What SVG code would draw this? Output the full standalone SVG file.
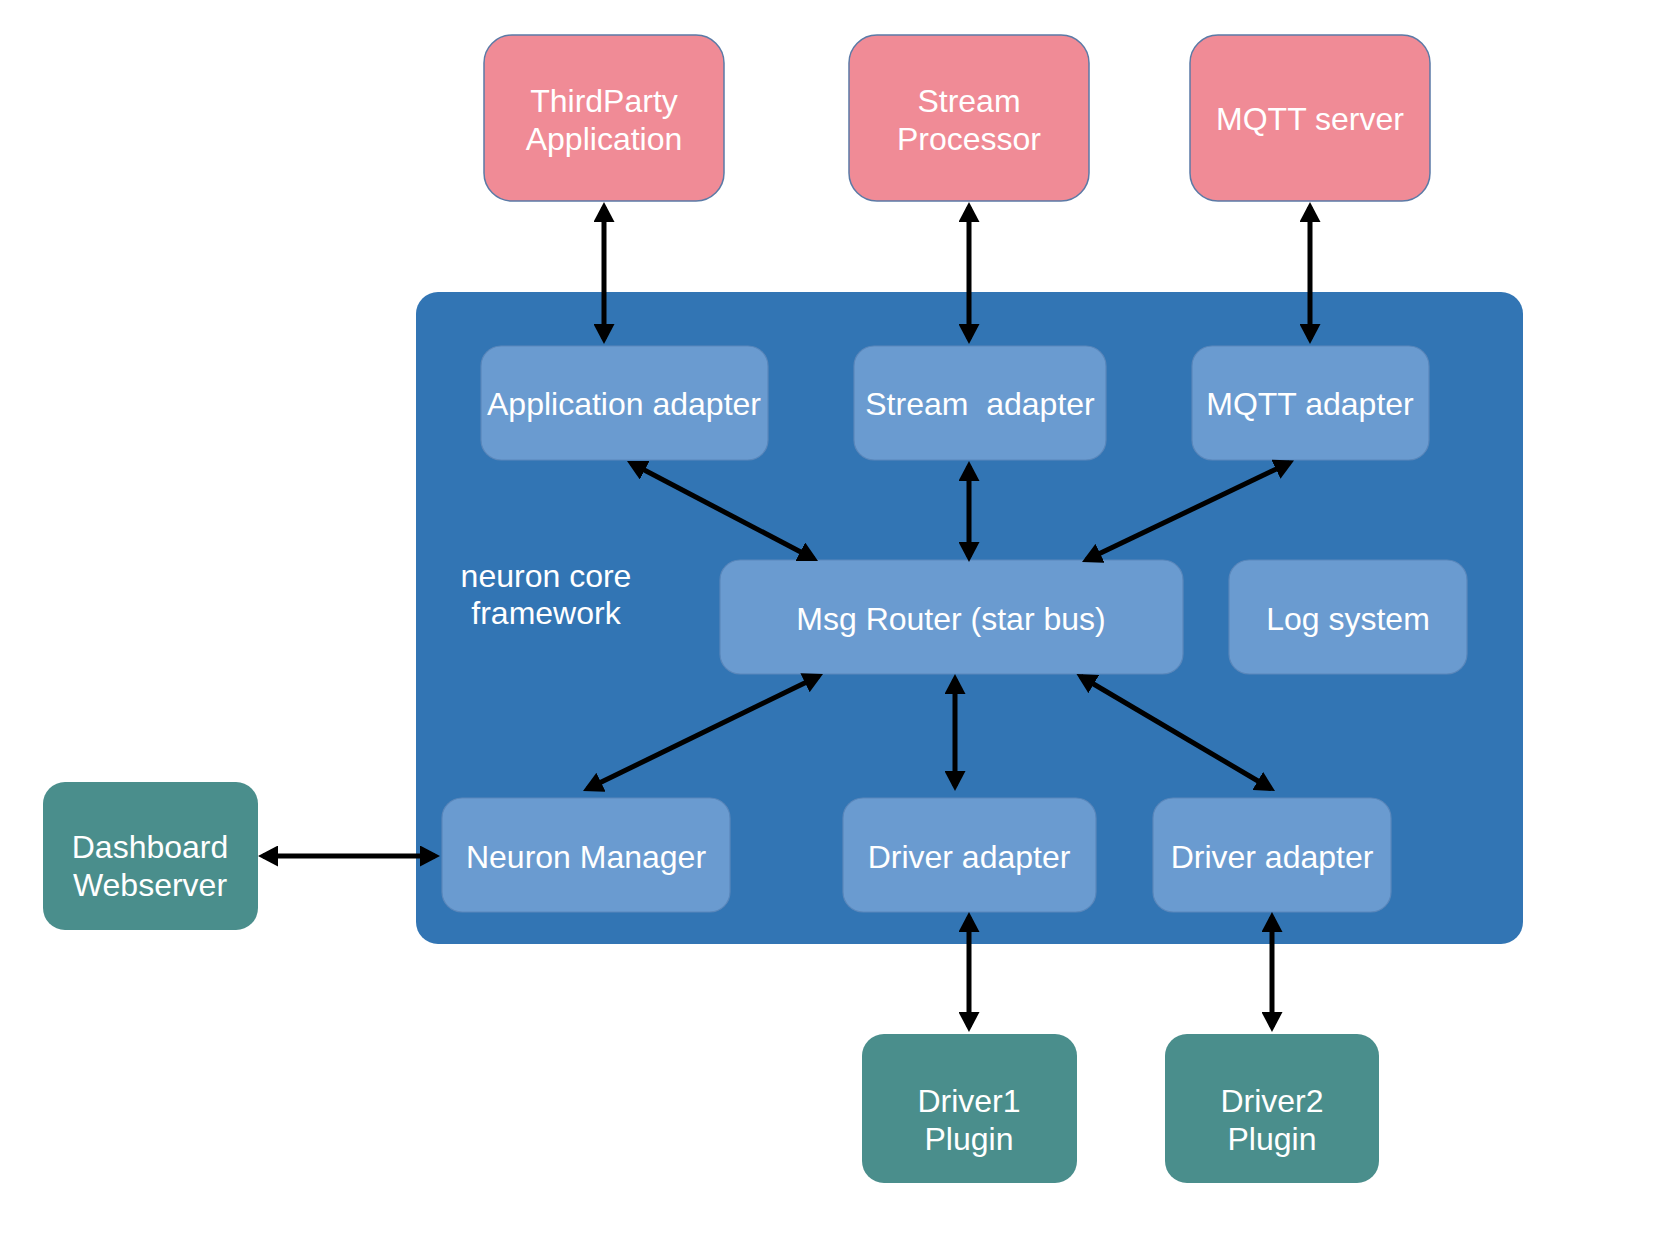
<svg xmlns="http://www.w3.org/2000/svg" width="1663" height="1242" viewBox="0 0 1663 1242">
<style>
.t{font-family:"Liberation Sans",Arial,Helvetica,sans-serif;font-size:32px;fill:#ffffff;text-anchor:middle}
.pink{fill:#f08b96;stroke:#5b7aa6;stroke-width:1.5}
.inner{fill:#6a9bd0;stroke:#5a87bb;stroke-width:1.2}
.teal{fill:#4a8e8c}
.core{fill:#3275b4}
.c{stroke:#000;stroke-width:5;fill:none;marker-start:url(#ah);marker-end:url(#ah)}
</style>
<defs>
<marker id="ah" markerUnits="userSpaceOnUse" viewBox="0 0 20 21" refX="15" refY="10.5" markerWidth="20" markerHeight="21" orient="auto-start-reverse">
<path d="M0,0 L20,10.5 L0,21 z" fill="#000"/>
</marker>
</defs>
<rect width="1663" height="1242" fill="#ffffff"/>
<g id="core">
<rect class="core" x="416" y="292" width="1107" height="652" rx="22"/>
<text class="t" x="546" y="587">neuron core</text>
<text class="t" x="546" y="624">framework</text>
</g>
<g id="thirdparty">
<rect class="pink" x="484" y="35" width="240" height="166" rx="28"/>
<text class="t" x="604" y="112">ThirdParty</text>
<text class="t" x="604" y="150">Application</text>
</g>
<g id="streamproc">
<rect class="pink" x="849" y="35" width="240" height="166" rx="28"/>
<text class="t" x="969" y="112">Stream</text>
<text class="t" x="969" y="150">Processor</text>
</g>
<g id="mqttserver">
<rect class="pink" x="1190" y="35" width="240" height="166" rx="28"/>
<text class="t" x="1310" y="130">MQTT server</text>
</g>
<g id="appadapter">
<rect class="inner" x="481" y="346" width="287" height="114" rx="20"/>
<text class="t" x="624" y="415">Application adapter</text>
</g>
<g id="streamadapter">
<rect class="inner" x="854" y="346" width="252" height="114" rx="20"/>
<text class="t" x="980" y="415" xml:space="preserve">Stream  adapter</text>
</g>
<g id="mqttadapter">
<rect class="inner" x="1192" y="346" width="237" height="114" rx="20"/>
<text class="t" x="1310" y="415">MQTT adapter</text>
</g>
<g id="router">
<rect class="inner" x="720" y="560" width="463" height="114" rx="20"/>
<text class="t" x="951" y="630">Msg Router (star bus)</text>
</g>
<g id="logsystem">
<rect class="inner" x="1229" y="560" width="238" height="114" rx="20"/>
<text class="t" x="1348" y="630">Log system</text>
</g>
<g id="neuronmanager">
<rect class="inner" x="442" y="798" width="288" height="114" rx="20"/>
<text class="t" x="586" y="868">Neuron Manager</text>
</g>
<g id="driveradapter1">
<rect class="inner" x="843" y="798" width="253" height="114" rx="20"/>
<text class="t" x="969" y="868">Driver adapter</text>
</g>
<g id="driveradapter2">
<rect class="inner" x="1153" y="798" width="238" height="114" rx="20"/>
<text class="t" x="1272" y="868">Driver adapter</text>
</g>
<g id="dashboard">
<rect class="teal" x="43" y="782" width="215" height="148" rx="22"/>
<text class="t" x="150" y="858">Dashboard</text>
<text class="t" x="150" y="896">Webserver</text>
</g>
<g id="driver1plugin">
<rect class="teal" x="862" y="1034" width="215" height="149" rx="22"/>
<text class="t" x="969" y="1112">Driver1</text>
<text class="t" x="969" y="1150">Plugin</text>
</g>
<g id="driver2plugin">
<rect class="teal" x="1165" y="1034" width="214" height="149" rx="22"/>
<text class="t" x="1272" y="1112">Driver2</text>
<text class="t" x="1272" y="1150">Plugin</text>
</g>
<g id="connectors">
<line class="c" x1="604" y1="207" x2="604" y2="339"/>
<line class="c" x1="969" y1="207" x2="969" y2="339"/>
<line class="c" x1="1310" y1="207" x2="1310" y2="339"/>
<line class="c" x1="631.4" y1="463.3" x2="813.6" y2="558.7"/>
<line class="c" x1="969" y1="466" x2="969" y2="557"/>
<line class="c" x1="1289.5" y1="462.7" x2="1086.5" y2="559.8"/>
<line class="c" x1="818.5" y1="676.2" x2="587.5" y2="788.8"/>
<line class="c" x1="955" y1="679" x2="955" y2="786"/>
<line class="c" x1="1080.8" y1="676.5" x2="1270.7" y2="788.5"/>
<line class="c" x1="263" y1="856" x2="435" y2="856"/>
<line class="c" x1="969" y1="917" x2="969" y2="1027"/>
<line class="c" x1="1272" y1="917" x2="1272" y2="1027"/>
</g>
</svg>
